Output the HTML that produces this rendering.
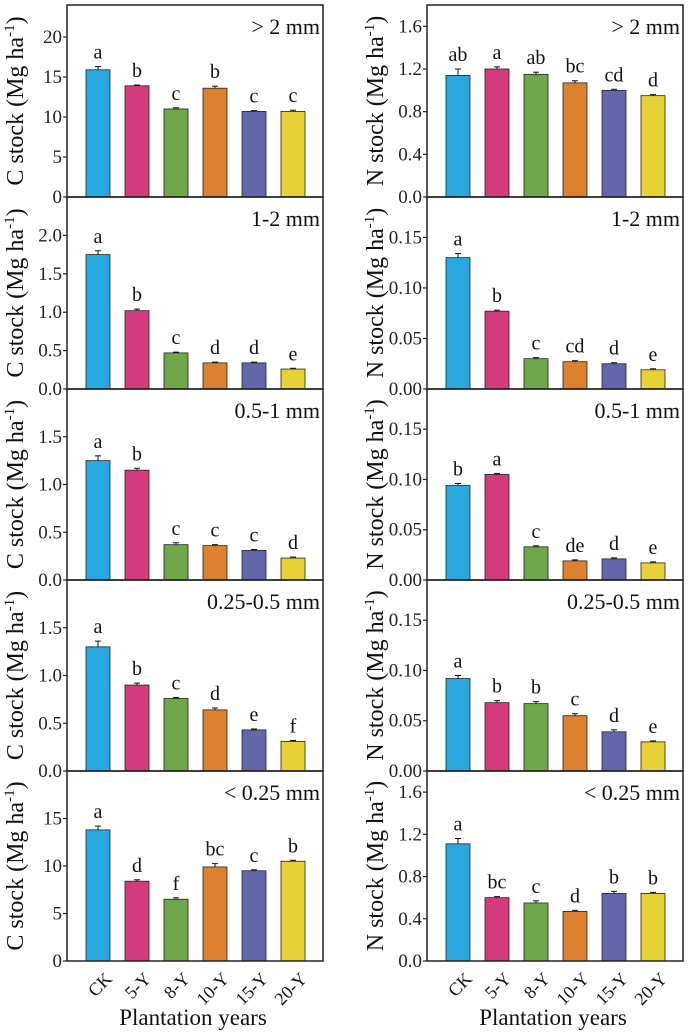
<!DOCTYPE html>
<html><head><meta charset="utf-8"><style>
html,body{margin:0;padding:0;background:#fff}
svg{display:block;font-family:"Liberation Serif",serif}
</style></head><body>
<svg id="chart" width="690" height="1033" viewBox="0 0 690 1033" xmlns="http://www.w3.org/2000/svg"></svg>
<script>
const categories=["CK","5-Y","8-Y","10-Y","15-Y","20-Y"];
const colors=["#29a8e0","#d33b7c","#6fa84a","#dd8131","#6466ab","#e8d137"];
const panelTitles=["> 2 mm","1-2 mm","0.5-1 mm","0.25-0.5 mm","< 0.25 mm"];
const cValues=[[15.9,13.9,11.0,13.6,10.7,10.7],[1.75,1.02,0.47,0.34,0.34,0.26],[1.25,1.15,0.37,0.36,0.31,0.23],[1.30,0.90,0.76,0.64,0.43,0.31],[13.8,8.4,6.5,9.9,9.5,10.5]];
const cErrors=[[0.4,0.1,0.15,0.25,0.1,0.15],[0.05,0.02,0.01,0.01,0.01,0.01],[0.05,0.02,0.02,0.01,0.01,0.01],[0.06,0.02,0.01,0.02,0.01,0.01],[0.4,0.15,0.15,0.35,0.1,0.1]];
const cLetters=[["a","b","c","b","c","c"],["a","b","c","d","d","e"],["a","b","c","c","c","d"],["a","b","c","d","e","f"],["a","d","f","bc","c","b"]];
const cMax=[24,2.5,2.0,2.0,20];
const cTicks=[[0,5,10,15,20],[0,0.5,1,1.5,2],[0,0.5,1,1.5],[0,0.5,1,1.5],[0,5,10,15]];
const cTickDec=[0,1,1,1,0];
const nValues=[[1.14,1.20,1.15,1.07,1.00,0.95],[0.130,0.077,0.030,0.027,0.025,0.019],[0.094,0.105,0.033,0.019,0.021,0.017],[0.092,0.068,0.067,0.055,0.039,0.029],[1.11,0.60,0.55,0.47,0.64,0.64]];
const nErrors=[[0.06,0.02,0.02,0.02,0.01,0.01],[0.004,0.001,0.001,0.001,0.001,0.001],[0.002,0.001,0.001,0.001,0.001,0.001],[0.003,0.002,0.002,0.002,0.002,0.001],[0.05,0.01,0.02,0.01,0.02,0.01]];
const nLetters=[["ab","a","ab","bc","cd","d"],["a","b","c","cd","d","e"],["b","a","c","de","d","e"],["a","b","b","c","d","e"],["a","bc","c","d","b","b"]];
const nMax=[1.8,0.19,0.19,0.19,1.8];
const nTicks=[[0,0.4,0.8,1.2,1.6],[0,0.05,0.1,0.15],[0,0.05,0.1,0.15],[0,0.05,0.1,0.15],[0,0.4,0.8,1.2,1.6]];
const nTickDec=[1,2,2,2,1];

const svg=document.getElementById('chart');
const NS="http://www.w3.org/2000/svg";
function mk(tag,attrs,parent){const e=document.createElementNS(NS,tag);for(const k in attrs)e.setAttribute(k,attrs[k]);(parent||svg).appendChild(e);return e;}
const panelTops=[5,197,389,580,771];
const panelH=[192,192,191,191,190];
const FF='"Liberation Serif", serif';

function drawColumn(x0,label,values,errors,letters,maxs,ticks,decs,colName){
  const w=256;
  for(let p=0;p<5;p++){
    const top=panelTops[p],bot=top+panelH[p];
    const g=mk('g',{'font-family':FF});
    
    
    const y=v=>bot-v/maxs[p]*(bot-top);
    const x=i=>x0+31+39*i;
    for(let i=0;i<6;i++){
      const v=values[p][i],e=errors[p][i];
      const r=mk('rect',{x:x(i)-12,y:y(v),width:24,height:bot-y(v),fill:colors[i],stroke:'#222','stroke-width':0.8},g);
      
      
      const ey=y(v+e);
      mk('line',{x1:x(i),x2:x(i),y1:y(v),y2:ey,stroke:'#111','stroke-width':1},g);
      mk('line',{x1:x(i)-3,x2:x(i)+3,y1:ey,y2:ey,stroke:'#111','stroke-width':1},g);
      const t=mk('text',{x:x(i),y:ey-8,'text-anchor':'middle','font-size':20,fill:'#111'},g);
      t.textContent=letters[p][i];
      
      
    }
    mk('rect',{x:x0,y:top,width:w,height:bot-top,fill:'none',stroke:'#222','stroke-width':1.5},g);
    ticks[p].forEach(tv=>{
      const ty=y(tv);
      mk('line',{x1:x0-4,x2:x0,y1:ty,y2:ty,stroke:'#222','stroke-width':1.2},g);
      const t=mk('text',{x:x0-5,y:ty+6,'text-anchor':'end','font-size':19,fill:'#222'},g);
      t.textContent=tv.toFixed(decs[p]);
      
      
    });
    const tt=mk('text',{x:x0+w-3,y:top+29,'text-anchor':'end','font-size':22,fill:'#111'},g);
    tt.textContent=panelTitles[p];
    
    
    const cy=(top+bot)/2, cx=x0-44;
    const yl=mk('text',{x:cx,y:cy,transform:`rotate(-90 ${cx} ${cy})`,'text-anchor':'middle','font-size':24,fill:'#111'},g);
    yl.innerHTML=label+' stock (Mg ha<tspan dy="-9" font-size="15">-1</tspan><tspan dy="9">)</tspan>';
    
    
    if(p===4){
      for(let i=0;i<6;i++){
        const lx=x(i)+6, ly=bot+10;
        const t=mk('text',{x:lx,y:ly,transform:`rotate(-45 ${lx} ${ly})`,'text-anchor':'end','font-size':18,fill:'#111',dy:'0.7em'},g);
        t.textContent=categories[i];
        
        
      }
      const xt=mk('text',{x:x0+w/2-2,y:1025,'text-anchor':'middle','font-size':23,fill:'#111'},g);
      xt.textContent='Plantation years';
      
      
    }
  }
}
drawColumn(67,'C',cValues,cErrors,cLetters,cMax,cTicks,cTickDec,'carbon');
drawColumn(427,'N',nValues,nErrors,nLetters,nMax,nTicks,nTickDec,'nitrogen');
</script>
</body></html>
